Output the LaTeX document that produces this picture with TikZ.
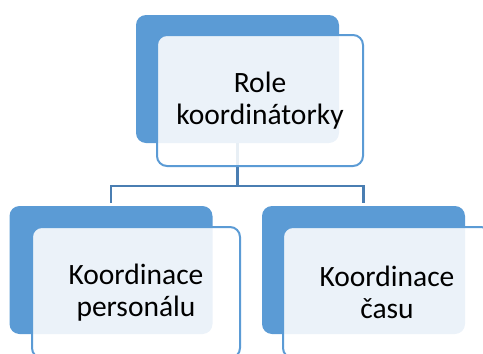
\documentclass[tikz,border=0pt]{standalone}
\usepackage{fontspec}
\setmainfont{Carlito}
\definecolor{backblue}{HTML}{5B9BD5}
\definecolor{lineblue}{HTML}{4A7EB2}
\tikzset{
  backbox/.style={draw=none, fill=backblue, rounded corners=10pt, minimum width=203pt, minimum height=128pt, inner sep=0pt},
  frontbox/.style={draw=backblue, line width=2pt, fill=white, fill opacity=0.88, text opacity=1, rounded corners=10pt, minimum width=206pt, minimum height=131pt, inner sep=0pt, align=center, font=\fontsize{29.5}{32.5}\selectfont},
  conn/.style={draw=lineblue, line width=2.6pt}
}
\begin{document}
\begin{tikzpicture}[x=1pt,y=-1pt]
\useasboundingbox (0,0) rectangle (483,354);
% back boxes
\node[backbox] (topback) at (237.5,79) {};
\node[backbox] (lback) at (111,270) {};
\node[backbox] (rback) at (363.5,270) {};
% connectors
\coordinate (junction) at (237.5,186);
\draw[conn] (topback.south) -- (junction);
\draw[conn] (junction) -| ([yshift=3pt]lback.north);
\draw[conn] (junction) -| ([yshift=3pt]rback.north);
% front boxes
\node[frontbox] (topfront) at (260,100.5) {Role\\koordinátorky};
\node[frontbox, minimum width=208pt] (lfront) at (136,292.5) {Koordinace\\personálu};
\node[frontbox, minimum width=208pt] (rfront) at (387,292.5) {Koordinace\\času};
\end{tikzpicture}
\end{document}
